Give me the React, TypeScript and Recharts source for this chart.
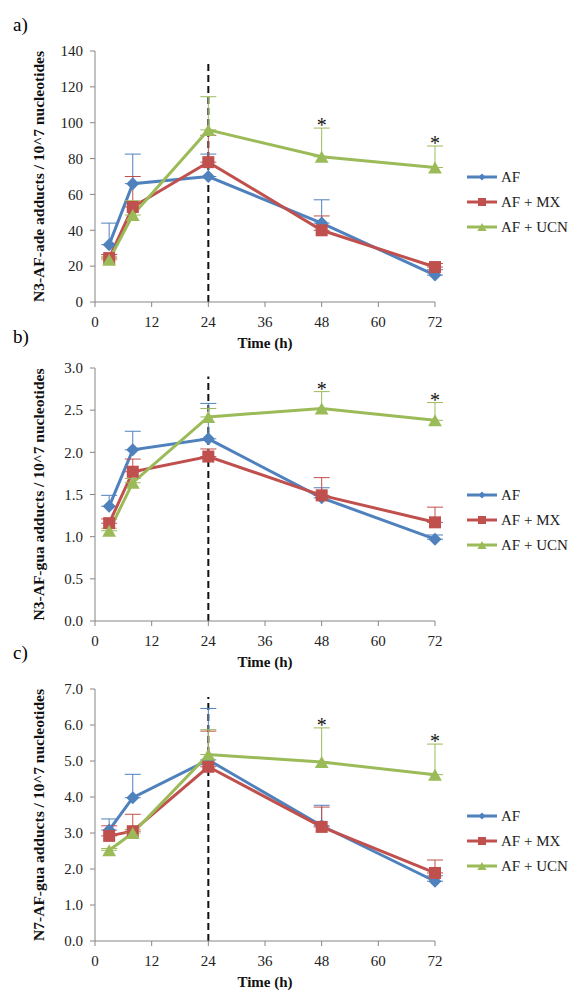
import React from "react";
import {
  LineChart,
  Line,
  XAxis,
  YAxis,
  ErrorBar,
  ReferenceLine,
  ReferenceDot,
  Legend,
} from "recharts";

// sampling times (h) and axis ticks
const TIMES = [3, 8, 24, 48, 72];
const X_TICKS = [0, 12, 24, 36, 48, 60, 72];
const SERIES = ["AF", "AF + MX", "AF + UCN"];

// a) N3-AF-ade adducts
const ADE_AF = [32, 66, 70, 44, 15];
const ADE_AF_ERR = [12, 16.5, 12.5, 13, 3];
const ADE_MX = [24.5, 53, 78, 40, 19.5];
const ADE_MX_ERR = [2, 17, 15, 8, 2];
const ADE_UCN = [23.5, 48.5, 96, 81, 75];
const ADE_UCN_ERR = [2, 8, 18.5, 16, 12];
const ADE_TICKS = [0, 20, 40, 60, 80, 100, 120, 140];
const ADE_STARS = [48, 72];

// b) N3-AF-gua adducts
const N3GUA_AF = [1.36, 2.03, 2.16, 1.46, 0.97];
const N3GUA_AF_ERR = [0.13, 0.22, 0.42, 0.12, 0.05];
const N3GUA_MX = [1.16, 1.77, 1.95, 1.49, 1.17];
const N3GUA_MX_ERR = [0.05, 0.15, 0.09, 0.21, 0.18];
const N3GUA_UCN = [1.07, 1.64, 2.42, 2.52, 2.38];
const N3GUA_UCN_ERR = [0.03, 0.05, 0.1, 0.2, 0.21];
const N3GUA_TICKS = [0, 0.5, 1, 1.5, 2, 2.5, 3];
const N3GUA_STARS = [48, 72];

// c) N7-AF-gua adducts
const N7GUA_AF = [3.08, 3.98, 5.03, 3.2, 1.66];
const N7GUA_AF_ERR = [0.31, 0.65, 1.43, 0.57, 0.15];
const N7GUA_MX = [2.92, 3.05, 4.84, 3.17, 1.89];
const N7GUA_MX_ERR = [0.28, 0.47, 0.99, 0.55, 0.36];
const N7GUA_UCN = [2.52, 3.0, 5.18, 4.97, 4.62];
const N7GUA_UCN_ERR = [0.05, 0.1, 0.69, 0.95, 0.85];
const N7GUA_TICKS = [0, 1, 2, 3, 4, 5, 6, 7];
const N7GUA_STARS = [48, 72];

const COLORS = ["#4F81BD", "#C0504D", "#9BBB59"];
const SHAPES = ["diamond", "square", "triangle"];
const AXIS = "#868686";
const FONT = "'Liberation Serif', 'Times New Roman', serif";

function buildRows(af: number[], afErr: number[], mx: number[], mxErr: number[], ucn: number[], ucnErr: number[]) {
  return TIMES.map((t, i) => ({
    t,
    af: af[i],
    afErr: [0, afErr[i]],
    mx: mx[i],
    mxErr: [0, mxErr[i]],
    ucn: ucn[i],
    ucnErr: [0, ucnErr[i]],
  }));
}

function Marker({ shape, cx, cy, s, color }: { shape: string; cx: number; cy: number; s: number; color: string }) {
  if (shape === "diamond") {
    return <path d={`M${cx},${cy - s}L${cx + s},${cy}L${cx},${cy + s}L${cx - s},${cy}Z`} fill={color} />;
  }
  if (shape === "square") {
    return <rect x={cx - s} y={cy - s} width={2 * s} height={2 * s} fill={color} />;
  }
  const w = s * 1.15;
  return <path d={`M${cx},${cy - s}L${cx + w},${cy + s}L${cx - w},${cy + s}Z`} fill={color} />;
}

function LegendBox({ payload }: any) {
  return (
    <div style={{ fontFamily: FONT, fontSize: 15, color: "#222" }}>
      {(payload || []).map((item: any, i: number) => (
        <div key={item.value} style={{ display: "flex", alignItems: "center", height: 25 }}>
          <svg width={32} height={14} style={{ marginRight: 2 }}>
            <line x1={0} y1={7} x2={30} y2={7} stroke={item.color} strokeWidth={3} />
            <Marker shape={SHAPES[i]} cx={15} cy={7} s={i === 0 ? 3.5 : 4} color={item.color} />
          </svg>
          <span>{item.value}</span>
        </div>
      ))}
    </div>
  );
}

interface PanelProps {
  tag: string;
  yLabel: string;
  rows: ReturnType<typeof buildRows>;
  yTicks: number[];
  decimals: number;
  stars: number[];
  dashTop: number;
  plotTop: number;
  plotBottom: number;
  tagY: number;
  legendY: number;
}

function Panel({ tag, yLabel, rows, yTicks, decimals, stars, dashTop, plotTop, plotBottom, tagY, legendY }: PanelProps) {
  const chartTop = plotTop - 20;
  const height = plotBottom - plotTop + 80;
  const keys = ["af", "mx", "ucn"];
  const yMax = yTicks[yTicks.length - 1];
  const starRows = rows.filter((r) => stars.includes(r.t));

  return (
    <>
      <div style={{ position: "absolute", left: 13, top: tagY - 11, fontFamily: FONT, fontSize: 19, lineHeight: "22px" }}>
        {tag}
      </div>
      <div style={{ position: "absolute", left: 0, top: chartTop }}>
        <LineChart width={581} height={height} data={rows} margin={{ top: 20, right: 146, bottom: 30, left: 0 }}>
          <XAxis
            dataKey="t"
            type="number"
            domain={[0, 72]}
            ticks={X_TICKS}
            height={30}
            stroke={AXIS}
            tickSize={5}
            tickMargin={9}
            tick={{ fontSize: 15, fill: "#222", fontFamily: FONT }}
            label={{
              value: "Time (h)",
              position: "bottom",
              offset: 5,
              style: { fontSize: 15, fontWeight: "bold", fill: "#111", fontFamily: FONT },
            }}
          />
          <YAxis
            type="number"
            domain={[0, yMax]}
            ticks={yTicks}
            width={95}
            stroke={AXIS}
            tickSize={5}
            tickMargin={7}
            tickFormatter={(v: number) => v.toFixed(decimals)}
            tick={{ fontSize: 15, fill: "#222", fontFamily: FONT }}
            label={{
              value: yLabel,
              angle: -90,
              position: "insideLeft",
              offset: 38,
              style: { textAnchor: "middle", fontSize: 15.5, fontWeight: "bold", fill: "#111", fontFamily: FONT },
            }}
          />
          <ReferenceLine
            segment={[
              { x: 24, y: 0 },
              { x: 24, y: dashTop },
            ]}
            stroke="#111"
            strokeWidth={2}
            strokeDasharray="7 4"
          />
          {keys.map((k, i) => (
            <Line
              key={k}
              type="linear"
              dataKey={k}
              name={SERIES[i]}
              stroke={COLORS[i]}
              strokeWidth={3}
              isAnimationActive={false}
              legendType={SHAPES[i] as any}
              dot={(p: any) => (
                <Marker key={`${k}-${p.index}`} shape={SHAPES[i]} cx={p.cx} cy={p.cy} s={i === 0 ? 6.5 : 6} color={COLORS[i]} />
              )}
              activeDot={false}
            >
              <ErrorBar dataKey={`${k}Err`} direction="y" width={8} stroke={COLORS[i]} strokeWidth={1} isAnimationActive={false} />
            </Line>
          ))}
          {starRows.map((r) => (
            <ReferenceDot
              key={`star-${r.t}`}
              x={r.t}
              y={r.ucn + r.ucnErr[1]}
              r={0}
              stroke="none"
              label={(p: any) => (
                <text
                  x={p.viewBox?.x ?? 0}
                  y={(p.viewBox?.y ?? 0) + 4}
                  textAnchor="middle"
                  fontSize={20}
                  fontFamily={FONT}
                  fill="#111"
                >
                  *
                </text>
              )}
            />
          ))}
          <Legend
            layout="vertical"
            align="center"
            verticalAlign="middle"
            content={<LegendBox />}
            wrapperStyle={{ left: 467, top: legendY - 12.5 - chartTop, width: "auto", height: "auto" }}
          />
        </LineChart>
      </div>
    </>
  );
}

export default function App() {
  return (
    <div style={{ position: "absolute", left: 0, top: 0, width: 581, height: 1005, background: "#fff", fontFamily: FONT }}>
      <Panel
        tag="a)"
        yLabel="N3-AF-ade adducts / 10^7 nucleotides"
        rows={buildRows(ADE_AF, ADE_AF_ERR, ADE_MX, ADE_MX_ERR, ADE_UCN, ADE_UCN_ERR)}
        yTicks={ADE_TICKS}
        decimals={0}
        stars={ADE_STARS}
        dashTop={135}
        plotTop={51}
        plotBottom={302}
        tagY={25}
        legendY={177}
      />
      <Panel
        tag="b)"
        yLabel="N3-AF-gua adducts / 10^7 nucleotides"
        rows={buildRows(N3GUA_AF, N3GUA_AF_ERR, N3GUA_MX, N3GUA_MX_ERR, N3GUA_UCN, N3GUA_UCN_ERR)}
        yTicks={N3GUA_TICKS}
        decimals={1}
        stars={N3GUA_STARS}
        dashTop={2.9}
        plotTop={368}
        plotBottom={621}
        tagY={337}
        legendY={495}
      />
      <Panel
        tag="c)"
        yLabel="N7-AF-gua adducts / 10^7 nucleotides"
        rows={buildRows(N7GUA_AF, N7GUA_AF_ERR, N7GUA_MX, N7GUA_MX_ERR, N7GUA_UCN, N7GUA_UCN_ERR)}
        yTicks={N7GUA_TICKS}
        decimals={1}
        stars={N7GUA_STARS}
        dashTop={6.78}
        plotTop={689}
        plotBottom={941}
        tagY={653}
        legendY={816}
      />
    </div>
  );
}
